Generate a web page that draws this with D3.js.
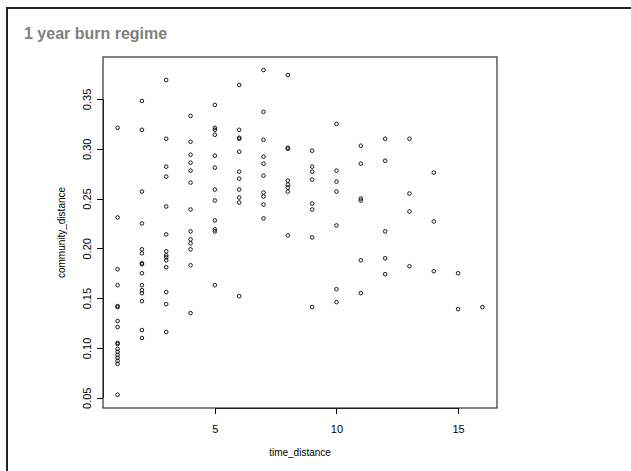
<!DOCTYPE html>
<meta charset="utf-8">
<head>
  <meta charset="utf-8">
  <title>1 year burn regime</title>
  <style>
    body { margin: 0; background: #fff; }
    svg { display: block; font-family: "Liberation Sans", Arial, sans-serif; }
    .axis text { font-size: 11px; fill: #000; }
    .axis line { stroke: #000; shape-rendering: crispEdges; }
  </style>
  <script src="https://d3js.org/d3.v7.min.js"></script>
</head>
<body>
<div id="chart"></div>
<script>

// time step (years) and the community distances observed at each step
var timeSteps = [1, 2, 3, 4, 5, 6, 7, 8, 9, 10, 11, 12, 13, 14, 15, 16];

var t1  = [0.321, 0.231, 0.179, 0.163, 0.142, 0.141, 0.127, 0.121, 0.105, 0.104, 0.099, 0.096, 0.093, 0.090, 0.087, 0.084, 0.053];
var t2  = [0.348, 0.319, 0.257, 0.225, 0.199, 0.195, 0.185, 0.184, 0.175, 0.163, 0.158, 0.155, 0.147, 0.118, 0.110];
var t3  = [0.369, 0.310, 0.282, 0.272, 0.242, 0.214, 0.197, 0.193, 0.191, 0.188, 0.181, 0.156, 0.144, 0.116];
var t4  = [0.333, 0.307, 0.294, 0.286, 0.278, 0.266, 0.239, 0.217, 0.209, 0.205, 0.199, 0.183, 0.135];
var t5  = [0.344, 0.321, 0.319, 0.314, 0.293, 0.281, 0.259, 0.248, 0.228, 0.219, 0.217, 0.163];
var t6  = [0.364, 0.319, 0.311, 0.310, 0.297, 0.277, 0.270, 0.259, 0.251, 0.246, 0.152];
var t7  = [0.379, 0.337, 0.309, 0.292, 0.285, 0.273, 0.256, 0.252, 0.244, 0.230];
var t8  = [0.374, 0.301, 0.300, 0.268, 0.264, 0.261, 0.257, 0.213];
var t9  = [0.298, 0.282, 0.277, 0.269, 0.245, 0.239, 0.211, 0.141];
var t10 = [0.325, 0.278, 0.267, 0.257, 0.223, 0.159, 0.146];
var t11 = [0.303, 0.285, 0.250, 0.248, 0.188, 0.155];
var t12 = [0.310, 0.288, 0.217, 0.190, 0.174];
var t13 = [0.310, 0.255, 0.237, 0.182];
var t14 = [0.276, 0.227, 0.177];
var t15 = [0.175, 0.139];
var t16 = [0.141];

var valuesByStep = [t1, t2, t3, t4, t5, t6, t7, t8, t9, t10, t11, t12, t13, t14, t15, t16];

var xTicks = [5, 10, 15];
var yTicks = [0.05, 0.10, 0.15, 0.20, 0.25, 0.30, 0.35];

// flatten into points
var points = [];
timeSteps.forEach(function(t, i) {
  valuesByStep[i].forEach(function(v) {
    points.push({time_distance: t, community_distance: v});
  });
});

var W = 631, H = 471;
var plot = {left: 103, right: 497, top: 57, bottom: 408};

var svg = d3.select("#chart")
  .append("svg")
    .attr("width", W)
    .attr("height", H);

// panel frame
svg.append("rect")
    .attr("x", 7)
    .attr("y", 8)
    .attr("width", 660)
    .attr("height", 500)
    .attr("fill", "#fff")
    .attr("stroke", "#222")
    .attr("stroke-width", 2);

svg.append("text")
    .attr("x", 24)
    .attr("y", 39)
    .style("font-size", "16px")
    .style("font-weight", "bold")
    .style("fill", "#7f7f7f")
    .text("1 year burn regime");

// R style 4% padding around the data range
var x = d3.scaleLinear()
    .domain([0.4, 16.6])
    .range([plot.left, plot.right]);

var y = d3.scaleLinear()
    .domain([0.0397, 0.3921])
    .range([plot.bottom, plot.top]);

// x axis
var gx = svg.append("g")
    .attr("class", "axis")
    .attr("transform", "translate(0," + plot.bottom + ")")
    .call(d3.axisBottom(x).tickValues(xTicks).tickSize(6).tickFormat(d3.format("d")));
gx.select(".domain").remove();
gx.selectAll("text").attr("y", 17).attr("dy", "0.71em");
gx.append("line")
    .attr("x1", x(xTicks[0]))
    .attr("x2", x(xTicks[xTicks.length - 1]))
    .attr("stroke", "#000");

// y axis, labels turned like R's default
var gy = svg.append("g")
    .attr("class", "axis")
    .attr("transform", "translate(" + plot.left + ",0)")
    .call(d3.axisLeft(y).tickValues(yTicks).tickSize(6).tickFormat(d3.format(".2f")));
gy.select(".domain").remove();
gy.selectAll("text")
    .attr("transform", "rotate(-90)")
    .attr("x", 0)
    .attr("y", -12)
    .attr("dy", 0)
    .attr("text-anchor", "middle");
gy.append("line")
    .attr("y1", y(yTicks[0]))
    .attr("y2", y(yTicks[yTicks.length - 1]))
    .attr("stroke", "#000");

// plot box
svg.append("rect")
    .attr("x", plot.left)
    .attr("y", plot.top)
    .attr("width", plot.right - plot.left)
    .attr("height", plot.bottom - plot.top)
    .attr("fill", "none")
    .attr("stroke", "#333")
    .attr("stroke-width", 1.2);

// axis titles
svg.append("text")
    .attr("x", (plot.left + plot.right) / 2)
    .attr("y", 456)
    .attr("text-anchor", "middle")
    .style("font-size", "10px")
    .text("time_distance");

svg.append("text")
    .attr("transform", "translate(65," + ((plot.top + plot.bottom) / 2) + ") rotate(-90)")
    .attr("text-anchor", "middle")
    .style("font-size", "10px")
    .text("community_distance");

// points
svg.append("g")
  .selectAll("circle")
  .data(points)
  .enter()
  .append("circle")
    .attr("cx", function(d) { return x(d.time_distance); })
    .attr("cy", function(d) { return y(d.community_distance); })
    .attr("r", 1.8)
    .attr("fill", "none")
    .attr("stroke", "#000")
    .attr("stroke-width", 0.9);

</script>
</body>
